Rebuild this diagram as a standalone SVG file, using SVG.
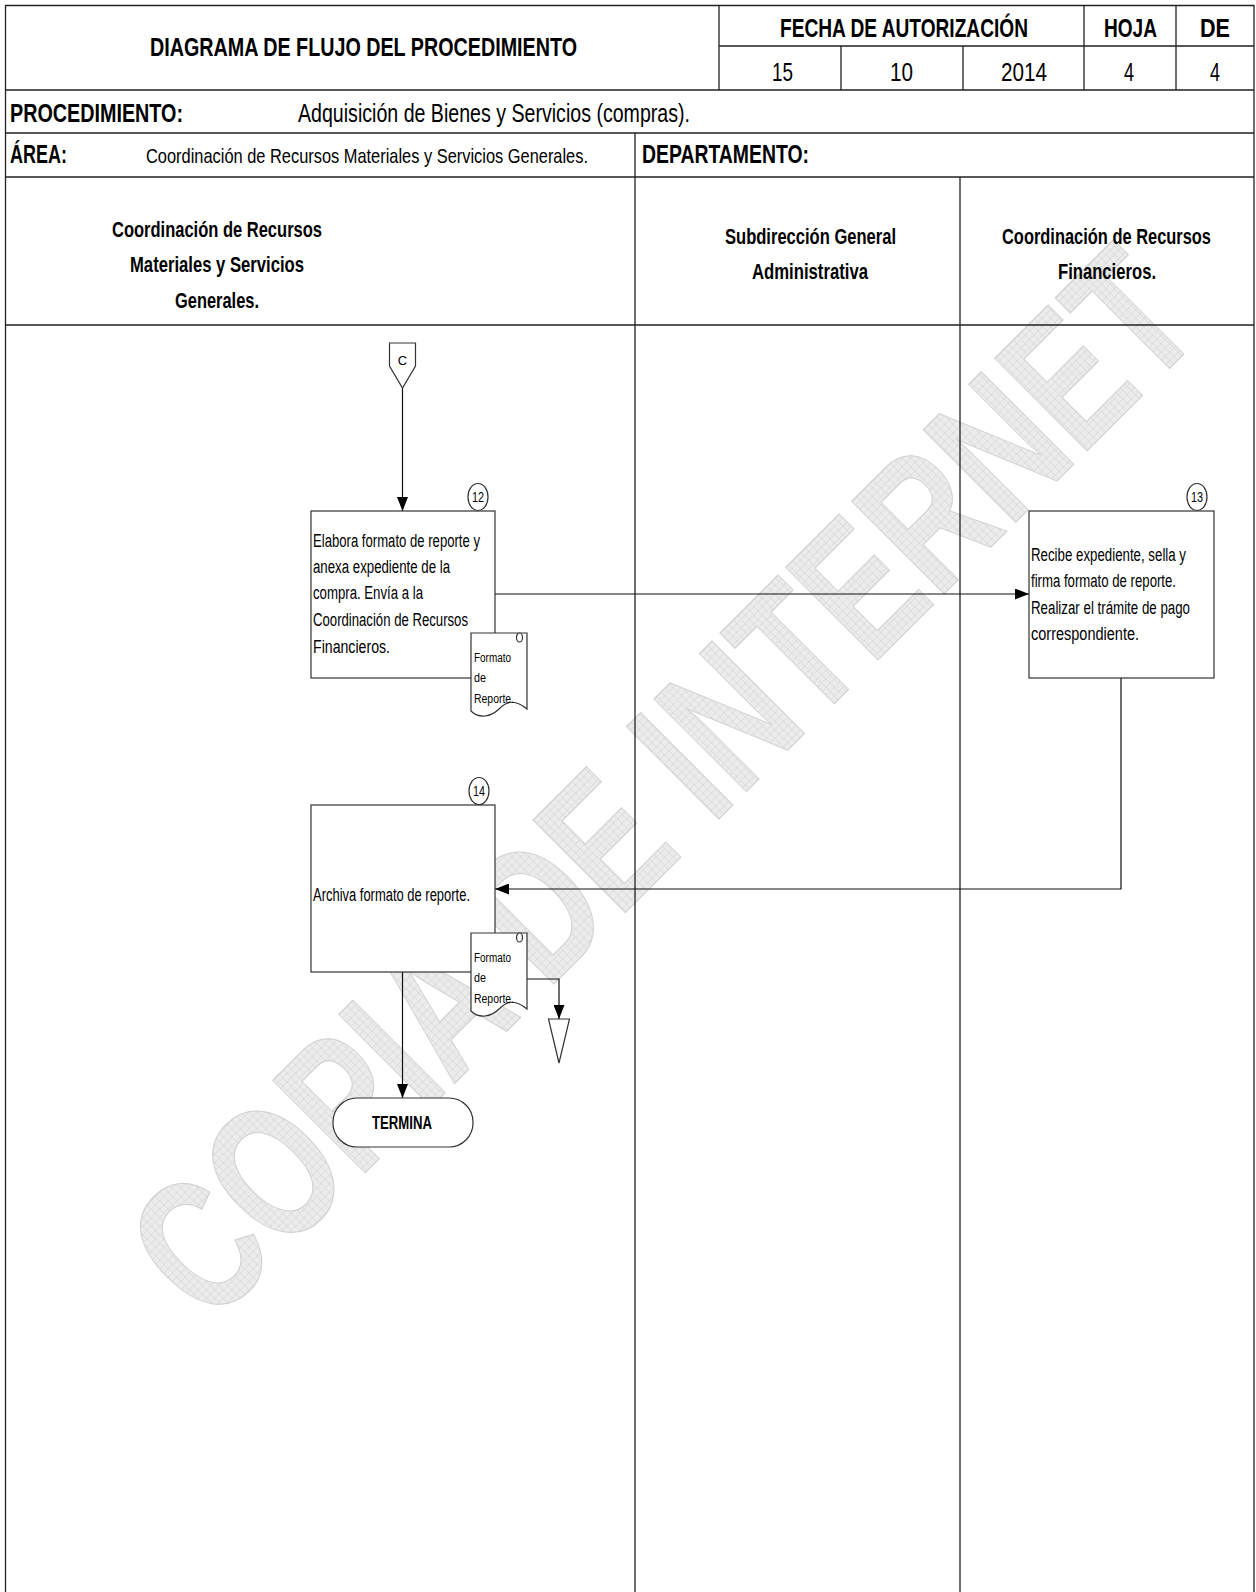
<svg xmlns="http://www.w3.org/2000/svg" width="1256" height="1592" viewBox="0 0 1256 1592">
<style>
.t{font-family:"Liberation Sans",Arial,sans-serif;fill:#000}
.b{font-weight:bold}
.grid{stroke:#222;stroke-width:1.3;fill:none}
.box{fill:#fff;stroke:#333;stroke-width:1.2}
.ln{stroke:#111;stroke-width:1.2;fill:none}
.wm{font-family:"Liberation Sans",Arial,sans-serif;font-weight:bold;fill:url(#hatch);stroke:#d2d2d2;stroke-width:1.2}
</style>
<defs>
<marker id="arr" markerUnits="userSpaceOnUse" markerWidth="14" markerHeight="11" refX="14" refY="5.5" orient="auto">
<path d="M0,0 L14,5.5 L0,11 Z" fill="#000"/>
</marker>
<pattern id="hatch" patternUnits="userSpaceOnUse" width="6" height="6">
<rect width="6" height="6" fill="#ececec"/>
<path d="M0,0 H6 M0,0 V6" stroke="#d3d3d3" stroke-width="1"/>
</pattern>
</defs>
<rect x="0" y="0" width="1256" height="1592" fill="#fff"/>
<g id="watermark">
<text class="wm" transform="translate(210,1328) rotate(-45)" font-size="190" textLength="1410" lengthAdjust="spacingAndGlyphs">COPIA DE INTERNET</text>
</g>
<g id="frame">
<path class="grid" d="M5.5,1592 V5.5 H1254 V1592"/>
<path class="grid" d="M5.5,90 H1254 M719,5.5 V90 M719,46 H1254 M841,46 V90 M963,46 V90 M1084,5.5 V90 M1176,5.5 V90"/>
<path class="grid" d="M5.5,133 H1254 M5.5,177 H1254 M635,133 V1592 M960,177 V1592 M5.5,325 H1254"/>
</g>
<g id="header">
<text class="t b" x="150" y="56" font-size="25" textLength="427" lengthAdjust="spacingAndGlyphs">DIAGRAMA DE FLUJO DEL PROCEDIMIENTO</text>
<text class="t b" x="780" y="37" font-size="25" textLength="248" lengthAdjust="spacingAndGlyphs">FECHA DE AUTORIZACIÓN</text>
<text class="t b" x="1104" y="37" font-size="25" textLength="53" lengthAdjust="spacingAndGlyphs">HOJA</text>
<text class="t b" x="1200" y="37" font-size="25" textLength="30" lengthAdjust="spacingAndGlyphs">DE</text>
<text class="t" x="772" y="81" font-size="25" textLength="21" lengthAdjust="spacingAndGlyphs">15</text>
<text class="t" x="890" y="81" font-size="25" textLength="23" lengthAdjust="spacingAndGlyphs">10</text>
<text class="t" x="1001" y="81" font-size="25" textLength="46" lengthAdjust="spacingAndGlyphs">2014</text>
<text class="t" x="1124" y="81" font-size="25" textLength="10" lengthAdjust="spacingAndGlyphs">4</text>
<text class="t" x="1210" y="81" font-size="25" textLength="10" lengthAdjust="spacingAndGlyphs">4</text>
<text class="t b" x="10" y="122" font-size="25" textLength="173" lengthAdjust="spacingAndGlyphs">PROCEDIMIENTO:</text>
<text class="t" x="298" y="122" font-size="25" textLength="392" lengthAdjust="spacingAndGlyphs">Adquisición de Bienes y Servicios (compras).</text>
<text class="t b" x="10" y="163" font-size="25" textLength="57" lengthAdjust="spacingAndGlyphs">ÁREA:</text>
<text class="t" x="146" y="163" font-size="21" textLength="442" lengthAdjust="spacingAndGlyphs">Coordinación de Recursos Materiales y Servicios Generales.</text>
<text class="t b" x="642" y="163" font-size="25" textLength="167" lengthAdjust="spacingAndGlyphs">DEPARTAMENTO:</text>
</g>
<g id="lane1">
<text class="t b" x="112" y="237" font-size="22" textLength="210" lengthAdjust="spacingAndGlyphs">Coordinación de Recursos</text>
<text class="t b" x="130" y="272" font-size="22" textLength="174" lengthAdjust="spacingAndGlyphs">Materiales y Servicios</text>
<text class="t b" x="175" y="308" font-size="22" textLength="84" lengthAdjust="spacingAndGlyphs">Generales.</text>
</g>
<g id="lane2">
<text class="t b" x="725" y="244" font-size="22" textLength="171" lengthAdjust="spacingAndGlyphs">Subdirección General</text>
<text class="t b" x="752" y="279" font-size="22" textLength="116" lengthAdjust="spacingAndGlyphs">Administrativa</text>
</g>
<g id="lane3">
<text class="t b" x="1002" y="244" font-size="22" textLength="209" lengthAdjust="spacingAndGlyphs">Coordinación de Recursos</text>
<text class="t b" x="1058" y="279" font-size="22" textLength="98" lengthAdjust="spacingAndGlyphs">Financieros.</text>
</g>
<g id="connectors">
<path class="ln" d="M402.5,388 V511" marker-end="url(#arr)"/>
<path class="ln" d="M495,594 H1029" marker-end="url(#arr)"/>
<path class="ln" d="M1121,678 V889 H495" marker-end="url(#arr)"/>
<path class="ln" d="M402.5,972 V1098" marker-end="url(#arr)"/>
<path class="ln" d="M527,979 H559 V1019" marker-end="url(#arr)"/>
</g>
<g id="connector-C">
<polygon class="box" points="389.5,343 415.5,343 415.5,366 402.5,388 389.5,366"/>
<text class="t" x="402.5" y="365" font-size="13" text-anchor="middle">C</text>
</g>
<g id="step12">
<rect class="box" x="311" y="511" width="184" height="167"/>
<ellipse class="box" cx="478" cy="497" rx="10" ry="13.5"/>
<text class="t" x="472" y="502" font-size="14" textLength="12" lengthAdjust="spacingAndGlyphs">12</text>
<text class="t" x="313" y="547" font-size="18" textLength="167" lengthAdjust="spacingAndGlyphs">Elabora formato de reporte y</text>
<text class="t" x="313" y="573" font-size="18" textLength="137" lengthAdjust="spacingAndGlyphs">anexa expediente de la</text>
<text class="t" x="313" y="599" font-size="18" textLength="110" lengthAdjust="spacingAndGlyphs">compra. Envía a la</text>
<text class="t" x="313" y="626" font-size="18" textLength="155" lengthAdjust="spacingAndGlyphs">Coordinación de Recursos</text>
<text class="t" x="313" y="653" font-size="18" textLength="77" lengthAdjust="spacingAndGlyphs">Financieros.</text>
</g>
<g id="doc12" transform="translate(471,633)">
<path class="box" d="M0,0 H56 V76 C44,66 36,68 28,76 C20,84 8,86 0,78 Z"/>
<ellipse class="box" cx="48.5" cy="4.5" rx="3" ry="4.5"/>
<text class="t" x="3" y="29" font-size="12" textLength="37" lengthAdjust="spacingAndGlyphs">Formato</text>
<text class="t" x="3" y="49" font-size="12" textLength="12" lengthAdjust="spacingAndGlyphs">de</text>
<text class="t" x="3" y="70" font-size="12" textLength="40" lengthAdjust="spacingAndGlyphs">Reporte.</text>
</g>
<g id="step13">
<rect class="box" x="1029" y="511" width="185" height="167"/>
<ellipse class="box" cx="1197" cy="497" rx="10" ry="13.5"/>
<text class="t" x="1191" y="502" font-size="14" textLength="12" lengthAdjust="spacingAndGlyphs">13</text>
<text class="t" x="1031" y="561" font-size="18" textLength="155" lengthAdjust="spacingAndGlyphs">Recibe expediente, sella y</text>
<text class="t" x="1031" y="587" font-size="18" textLength="145" lengthAdjust="spacingAndGlyphs">firma formato de reporte.</text>
<text class="t" x="1031" y="614" font-size="18" textLength="159" lengthAdjust="spacingAndGlyphs">Realizar el trámite de pago</text>
<text class="t" x="1031" y="640" font-size="18" textLength="108" lengthAdjust="spacingAndGlyphs">correspondiente.</text>
</g>
<g id="step14">
<rect class="box" x="311" y="805" width="184" height="167"/>
<ellipse class="box" cx="479" cy="791" rx="10" ry="13.5"/>
<text class="t" x="473" y="796" font-size="14" textLength="12" lengthAdjust="spacingAndGlyphs">14</text>
<text class="t" x="313" y="901" font-size="18" textLength="157" lengthAdjust="spacingAndGlyphs">Archiva formato de reporte.</text>
</g>
<g id="doc14" transform="translate(471,933)">
<path class="box" d="M0,0 H56 V76 C44,66 36,68 28,76 C20,84 8,86 0,78 Z"/>
<ellipse class="box" cx="48.5" cy="4.5" rx="3" ry="4.5"/>
<text class="t" x="3" y="29" font-size="12" textLength="37" lengthAdjust="spacingAndGlyphs">Formato</text>
<text class="t" x="3" y="49" font-size="12" textLength="12" lengthAdjust="spacingAndGlyphs">de</text>
<text class="t" x="3" y="70" font-size="12" textLength="40" lengthAdjust="spacingAndGlyphs">Reporte.</text>
</g>
<g id="archive">
<polygon class="box" points="548.5,1019 569.5,1019 559,1063"/>
</g>
<g id="termina">
<rect class="box" x="333" y="1098" width="140" height="49" rx="24" ry="24"/>
<text class="t b" x="372" y="1129" font-size="18" textLength="60" lengthAdjust="spacingAndGlyphs">TERMINA</text>
</g>
</svg>
